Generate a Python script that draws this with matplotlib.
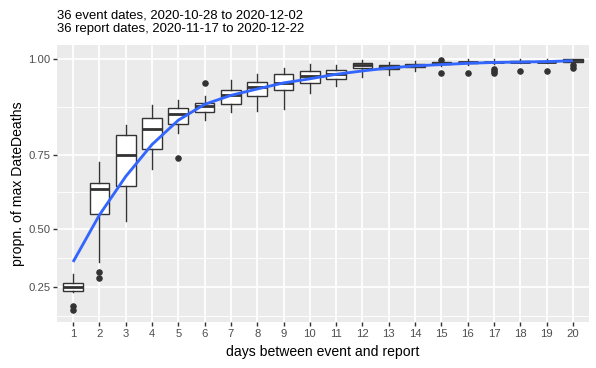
import numpy as np
import matplotlib
matplotlib.use('Agg')
import matplotlib.pyplot as plt

plt.rcParams['font.family'] = ['Liberation Sans', 'DejaVu Sans']

# ---------------- data ----------------
days = list(range(1, 21))
whislo = [0.226, 0.365, 0.530, 0.708, 0.813, 0.848, 0.871, 0.873, 0.877, 0.920,
          0.936, 0.959, 0.963, 0.974, 0.985, 0.987, 0.990, 0.992, 0.992, 0.993]
q1 = [0.229, 0.554, 0.652, 0.767, 0.839, 0.869, 0.890, 0.912, 0.926, 0.945,
      0.953, 0.979, 0.977, 0.982, 0.990, 0.991, 0.993, 0.994, 0.994, 0.995]
med = [0.249, 0.641, 0.749, 0.823, 0.864, 0.886, 0.914, 0.933, 0.944, 0.961,
       0.965, 0.987, 0.983, 0.986, 0.992, 0.993, 0.994, 0.995, 0.995, 0.999]
q3 = [0.269, 0.663, 0.807, 0.855, 0.880, 0.894, 0.927, 0.947, 0.966, 0.973,
      0.975, 0.991, 0.987, 0.990, 0.994, 0.994, 0.995, 0.997, 0.997, 1.000]
whishi = [0.310, 0.729, 0.835, 0.888, 0.901, 0.911, 0.951, 0.965, 0.980, 0.990,
          0.987, 0.999, 0.995, 0.997, 0.997, 1.000, 1.000, 1.000, 1.000, 1.000]
outliers = [[0.151, 0.127], [0.322, 0.292], [], [], [0.739], [0.943], [], [], [], [],
            [], [], [], [], [0.999, 0.967], [0.967], [0.977, 0.972, 0.967], [0.973],
            [0.973], [0.986, 0.979]]
smooth = [0.365, 0.552, 0.683, 0.780, 0.848, 0.890, 0.913, 0.929, 0.944, 0.954,
          0.965, 0.973, 0.980, 0.985, 0.988, 0.991, 0.993, 0.994, 0.995, 0.997]

yticks = [0.25, 0.50, 0.75, 1.00]
ytick_labels = ["0.25", "0.50", "0.75", "1.00"]
title_lines = ["36 event dates, 2020-10-28 to 2020-12-02",
               "36 report dates, 2020-11-17 to 2020-12-22"]
xlabel = "days between event and report"
ylabel = "propn. of max DateDeaths"

# ---------------- figure ----------------
W, H, DPI = 596, 368, 72
fig = plt.figure(figsize=(W / DPI, H / DPI), dpi=DPI, facecolor='white')
L, R, T, B = 57.3, 588.7, 45.0, 322.3
ax = fig.add_axes([L / W, 1 - B / H, (R - L) / W, (B - T) / H])
ax.set_facecolor('#EBEBEB')
for s in ax.spines.values():
    s.set_visible(False)

ax.set_yscale('function', functions=(np.exp, np.log))
ax.set_ylim(0.058, 1.033)
ax.set_xlim(0.4, 20.6)

# grid
ex = np.exp(np.array(yticks))
ext = np.concatenate([[ex[0] - (ex[1] - ex[0])], ex, [ex[-1] + (ex[-1] - ex[-2])]])
minor = np.log((ext[:-1] + ext[1:]) / 2)
for m in minor:
    ax.axhline(m, color='white', lw=0.9, zorder=0.5)
for t in yticks:
    ax.axhline(t, color='white', lw=1.8, zorder=0.6)
for d in days:
    ax.axvline(d, color='white', lw=1.8, zorder=0.6)

stats = []
for i in range(len(days)):
    stats.append(dict(med=med[i], q1=q1[i], q3=q3[i], whislo=whislo[i],
                      whishi=whishi[i], fliers=outliers[i]))
edge = '#333333'
ax.bxp(stats, positions=days, widths=0.75, patch_artist=True,
       showcaps=False, manage_ticks=False,
       boxprops=dict(facecolor='white', edgecolor=edge, linewidth=1.4),
       medianprops=dict(color=edge, linewidth=2.8, solid_capstyle='butt'),
       whiskerprops=dict(color=edge, linewidth=1.4),
       flierprops=dict(marker='o', markerfacecolor=edge, markeredgecolor=edge,
                       markersize=5.5, linestyle='none'),
       zorder=2)

ax.plot(days, smooth, color='#3366FF', lw=2.85, zorder=4, solid_capstyle='butt')

ax.set_xticks(days)
ax.set_xticklabels([str(d) for d in days])
ax.set_yticks(yticks)
ax.set_yticklabels(ytick_labels)
ax.yaxis.set_minor_locator(matplotlib.ticker.NullLocator())
ax.tick_params(axis='both', which='major', length=4, width=1.4, color='#333333',
               labelsize=11.2, labelcolor='#4D4D4D', pad=2.8)

fig.text((L + R) / 2 / W, 1 - 356 / H, xlabel, fontsize=14, color='black',
         ha='center', va='baseline')
fig.text(18.5 / W, 1 - (T + B) / 2 / H, ylabel, fontsize=14, color='black',
         ha='center', va='center', rotation=90)

fig.text(L / W, 1 - 18.5 / H, title_lines[0], fontsize=13.1, ha='left', va='baseline')
fig.text(L / W, 1 - 32.3 / H, title_lines[1], fontsize=13.1, ha='left', va='baseline')

fig.savefig('out.png', dpi=DPI)
